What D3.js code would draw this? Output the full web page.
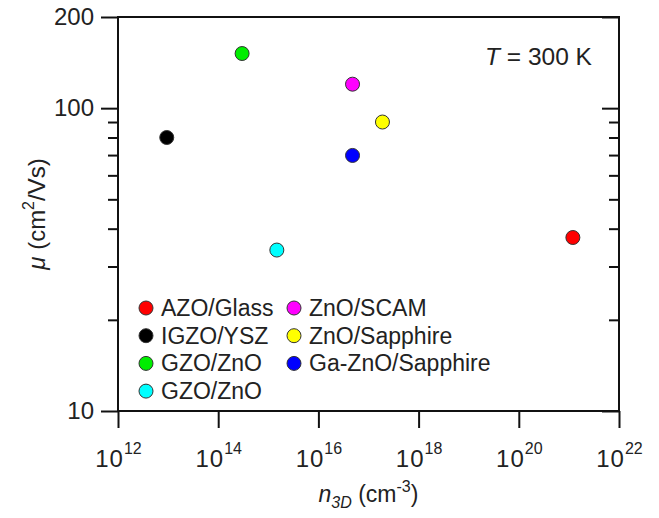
<!DOCTYPE html>
<html>
<head>
<meta charset="utf-8">
<script src="https://cdn.jsdelivr.net/npm/d3@7"></script>
<style>
  body { margin: 0; background: #fff; }
  svg { display: block; }
  text { font-family: "Liberation Sans", Arial, sans-serif; fill: #222; }
</style>
</head>
<body>
<div id="chart"></div>
<script>
// Samples: carrier density n3D (cm^-3) and mobility (cm^2/Vs)
const names   = ['AZO/Glass', 'IGZO/YSZ', 'GZO/ZnO', 'GZO/ZnO', 'ZnO/SCAM', 'ZnO/Sapphire', 'Ga-ZnO/Sapphire'];
const colors  = ['#ff0000', '#000000', '#00ee00', '#00ffff', '#ff00ff', '#ffff00', '#0000ff'];
const density = [1.2e21, 9.4e12, 3.0e14, 1.48e15, 4.8e16, 1.9e17, 4.8e16];
const mobility = [37.4, 80, 151.5, 34, 120, 90, 69.8];

const xMajor = [1e12, 1e14, 1e16, 1e18, 1e20, 1e22];
const yMajor = [10, 100, 200];
const yMinor = [20, 30, 40, 50, 60, 70, 80, 90];

// legend order: two columns
const legendCol1 = [0, 1, 2, 3];
const legendCol2 = [4, 5, 6];

const width = 659, height = 518;
const margin = { left: 118, right: 40, top: 17, bottom: 107 };
const x0 = margin.left, x1 = width - margin.right;
const y0 = height - margin.bottom, y1 = margin.top;

const svg = d3.select('#chart').append('svg')
  .attr('width', width)
  .attr('height', height);

const x = d3.scaleLog().domain([1e12, 1e22]).range([x0, x1]);
const y = d3.scaleLog().domain([10, 200]).range([y0, y1]);

const axisStyle = g => {
  g.select('.domain').remove();
  g.selectAll('line').attr('stroke', '#111').attr('stroke-width', 2);
};

// left axis: major with labels, minor without (outward)
svg.append('g')
  .attr('transform', `translate(${x0},0)`)
  .call(d3.axisLeft(y).tickValues(yMajor).tickSize(17).tickPadding(7).tickFormat(d3.format('d')))
  .call(axisStyle)
  .call(g => g.selectAll('text').attr('font-size', 24).attr('fill', '#222'));
svg.append('g')
  .attr('transform', `translate(${x0},0)`)
  .call(d3.axisLeft(y).tickValues(yMinor).tickSize(10).tickFormat(''))
  .call(axisStyle);

// right axis: ticks pointing inward
svg.append('g')
  .attr('transform', `translate(${x1},0)`)
  .call(d3.axisLeft(y).tickValues(yMajor).tickSize(17).tickFormat(''))
  .call(axisStyle);
svg.append('g')
  .attr('transform', `translate(${x1},0)`)
  .call(d3.axisLeft(y).tickValues(yMinor).tickSize(10).tickFormat(''))
  .call(axisStyle);

// bottom axis
const xAxis = svg.append('g')
  .attr('transform', `translate(0,${y0})`)
  .call(d3.axisBottom(x).tickValues(xMajor).tickSize(17).tickFormat(''))
  .call(axisStyle);

xAxis.selectAll('.tick').append('text')
  .attr('y', 56)
  .attr('text-anchor', 'middle')
  .attr('font-size', 24)
  .each(function(d) {
    const t = d3.select(this);
    t.append('tspan').text('10').attr('letter-spacing', 1);
    t.append('tspan').text(Math.round(Math.log10(d)))
      .attr('font-size', 16).attr('dy', -13);
  });

// frame
svg.append('rect')
  .attr('x', x0).attr('y', y1)
  .attr('width', x1 - x0).attr('height', y0 - y1)
  .attr('fill', 'none')
  .attr('stroke', '#111')
  .attr('stroke-width', 2);

// points
svg.append('g')
  .selectAll('circle')
  .data(names.map((n, i) => i))
  .join('circle')
  .attr('cx', i => x(density[i]))
  .attr('cy', i => y(mobility[i]))
  .attr('r', 7)
  .attr('fill', i => colors[i])
  .attr('stroke', '#333')
  .attr('stroke-width', 1);

// legend
const legend = svg.append('g');
[[legendCol1, 146], [legendCol2, 294]].forEach(([idx, lx]) => {
  idx.forEach((i, r) => {
    const ry = 308 + r * 27.7;
    legend.append('circle')
      .attr('cx', lx).attr('cy', ry).attr('r', 7)
      .attr('fill', colors[i]).attr('stroke', '#333').attr('stroke-width', 1);
    legend.append('text')
      .attr('x', lx + 15).attr('y', ry + 8)
      .attr('font-size', 23)
      .text(names[i]);
  });
});

// temperature annotation
const tNote = svg.append('text')
  .attr('x', 485).attr('y', 65)
  .attr('font-size', 24.5);
tNote.append('tspan').attr('font-style', 'italic').text('T');
tNote.append('tspan').text(' = 300 K');

// axis titles
const xt = svg.append('text')
  .attr('x', (x0 + x1) / 2).attr('y', 502)
  .attr('text-anchor', 'middle')
  .attr('font-size', 23);
xt.append('tspan').attr('font-style', 'italic').text('n');
xt.append('tspan').attr('font-style', 'italic').attr('font-size', 16).attr('dy', 6).text('3D');
xt.append('tspan').attr('dy', -6).text(' (cm');
xt.append('tspan').attr('font-size', 16).attr('dy', -10).text('-3');
xt.append('tspan').attr('dy', 10).text(')');

const yt = svg.append('text')
  .attr('transform', `translate(45,${(y0 + y1) / 2}) rotate(-90)`)
  .attr('text-anchor', 'middle')
  .attr('font-size', 24);
yt.append('tspan').attr('font-style', 'italic').text('μ');
yt.append('tspan').text(' (cm');
yt.append('tspan').attr('font-size', 16).attr('dy', -11).text('2');
yt.append('tspan').attr('dy', 11).text('/Vs)');
</script>
</body>
</html>
